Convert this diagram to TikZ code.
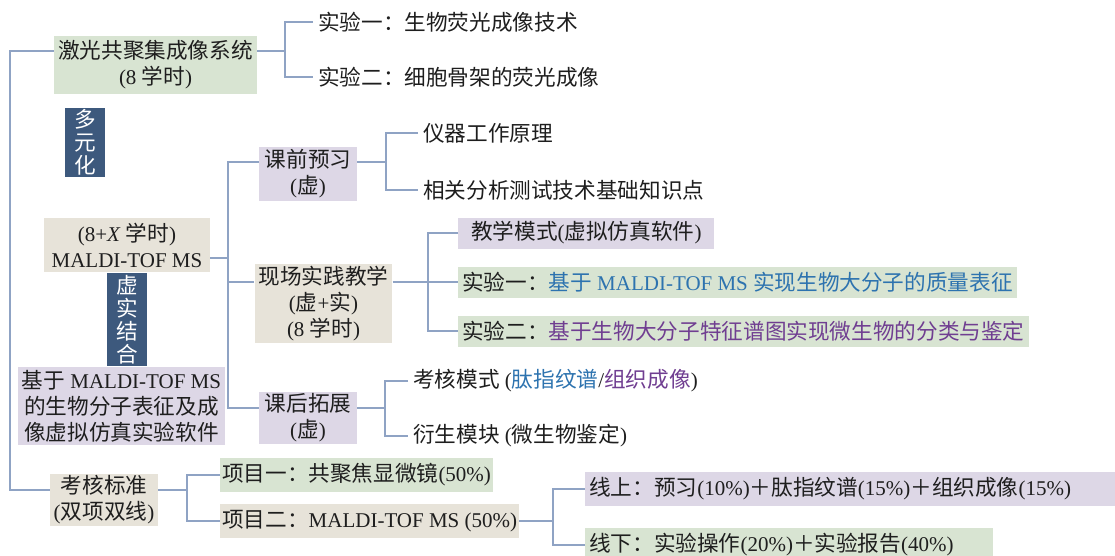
\documentclass[tikz,border=0pt]{standalone}
\usepackage{fontspec}
\setmainfont{Liberation Serif}
\newfontfamily\cjk[Scale=1.03]{Noto Sans CJK SC}
\usetikzlibrary{calc}
% switch to the CJK family for Han characters and full-width signs
\XeTeXinterchartokenstate=1
\newXeTeXintercharclass\hanclass
\newcount\hancode
\hancode="4E00
\loop
  \XeTeXcharclass\hancode=\hanclass
  \advance\hancode by 1
\ifnum\hancode<"A000 \repeat
\XeTeXcharclass"FF1A=\hanclass
\XeTeXcharclass"FF0B=\hanclass
\XeTeXinterchartoks 0 \hanclass = {\cjk}
\XeTeXinterchartoks 4095 \hanclass = {\cjk}
\XeTeXinterchartoks \hanclass 0 = {\rmfamily}
\XeTeXinterchartoks \hanclass 4095 = {\rmfamily}
\definecolor{linkblue}{RGB}{143,163,196}
\definecolor{boxgreen}{RGB}{216,228,210}
\definecolor{boxtan}{RGB}{231,227,217}
\definecolor{boxlilac}{RGB}{221,215,230}
\definecolor{tagblue}{RGB}{61,89,125}
\definecolor{txtblue}{RGB}{45,115,175}
\definecolor{txtpurple}{RGB}{112,62,145}
\definecolor{ink}{RGB}{30,30,30}
\tikzset{
  link/.style={draw=linkblue, line width=1.3pt},
  box/.style={font=\fontsize{21}{26}\selectfont, text=ink, inner xsep=4pt, inner ysep=2pt, align=center},
  greenbox/.style={box, fill=boxgreen},
  tanbox/.style={box, fill=boxtan},
  lilacbox/.style={box, fill=boxlilac},
  tagbox/.style={box, fill=tagblue, text=white, font=\fontsize{21}{23}\selectfont, minimum width=40pt},
  leaf/.style={box, anchor=west, inner xsep=5pt},
}
\begin{document}
\begin{tikzpicture}[x=1pt,y=-1pt]
\useasboundingbox (0,0) rectangle (1115,555);
% first branch
\node[greenbox, minimum width=195, minimum height=58] (las) at (155.5,65) {激光共聚集成像系统\\(8 学时)};
\node[leaf] (e1) at (313,22) {实验一：生物荧光成像技术};
\node[leaf] (e2) at (313,77) {实验二：细胞骨架的荧光成像};
\node[tagbox, minimum height=69] (t1) at (85,142.5) {多\\元\\化};
% second branch
\node[tanbox, minimum width=166, minimum height=54] (md) at (127,245) {(8+\textit{X} 学时)\\MALDI-TOF MS};
\node[tagbox, minimum height=89] (t2) at (127,319.5) {虚\\实\\结\\合};
\node[lilacbox, minimum width=205, minimum height=78] (sw) at (121.5,406) {基于 MALDI-TOF MS\\的生物分子表征及成\\像虚拟仿真实验软件};
\node[lilacbox, minimum width=98, minimum height=54] (kq) at (308,174) {课前预习\\(虚)};
\node[tanbox, minimum width=129, minimum height=75] (xc) at (323.5,303.5) {现场实践教学\\(虚+实)\\(8 学时)};
\node[lilacbox, minimum width=98, minimum height=50] (kb) at (308,418) {课后拓展\\(虚)};
\node[leaf] (q1) at (418,133) {仪器工作原理};
\node[leaf] (q2) at (418,190) {相关分析测试技术基础知识点};
\node[lilacbox, anchor=west, minimum height=31, inner xsep=13pt] (x1) at (458,233) {教学模式(虚拟仿真软件)};
\node[greenbox, anchor=west, minimum height=31] (x2) at (458,282) {实验一：\textcolor{txtblue}{基于 MALDI-TOF MS 实现生物大分子的质量表征}};
\node[greenbox, anchor=west, minimum height=31] (x3) at (458,331) {实验二：\textcolor{txtpurple}{基于生物大分子特征谱图实现微生物的分类与鉴定}};
\node[leaf] (h1) at (408,381) {考核模式 (\textcolor{txtblue}{肽指纹谱}/\textcolor{txtpurple}{组织成像})};
\node[leaf] (h2) at (408,436) {衍生模块 (微生物鉴定)};
% assessment
\node[tanbox, minimum width=108, minimum height=52] (kh) at (104,500) {考核标准\\(双项双线)};
\node[greenbox, anchor=west, minimum height=34, inner xsep=2pt] (p1) at (220,475) {项目一：共聚焦显微镜(50\%)};
\node[tanbox, anchor=west, minimum height=34, inner xsep=2pt] (p2) at (220,521) {项目二：MALDI-TOF MS (50\%)};
\node[lilacbox, anchor=west, minimum height=34, text width=525, align=left] (on) at (585,489) {线上：预习(10\%)＋肽指纹谱(15\%)＋组织成像(15\%)};
\node[greenbox, anchor=west, minimum height=34, text width=400, align=left] (off) at (585,545) {线下：实验操作(20\%)＋实验报告(40\%)};
% connectors
\coordinate (r0) at (10,51);
\coordinate (r1) at (10,490);
\draw[link] (las.west|-r0) -- (r0) -- (r1) -- (kh.west|-r1);
\coordinate (j1) at (285,51);
\draw[link] (las.east|-j1) -- (j1);
\draw[link] (e1.west) -| (j1) |- (e2.west);
\coordinate (s1) at (228,162);
\coordinate (s2) at (228,258);
\coordinate (s3) at (228,282);
\coordinate (s4) at (228,408);
\draw[link] (kq.west|-s1) -- (s1) -- (s4) -- (kb.west|-s4);
\draw[link] (md.east|-s2) -- (s2);
\draw[link] (s3) -- (xc.west|-s3);
\coordinate (j3) at (386,162);
\draw[link] (kq.east|-j3) -- (j3);
\draw[link] (q1.west) -| (j3) |- (q2.west);
\coordinate (j4) at (428,282);
\draw[link] (xc.east|-j4) -- (x2.west);
\draw[link] (x1.west) -| (j4) |- (x3.west);
\coordinate (j5) at (385,408);
\draw[link] (kb.east|-j5) -- (j5);
\draw[link] (h1.west) -| (j5) |- (h2.west);
\coordinate (j6) at (187,490);
\draw[link] (kh.east|-j6) -- (j6);
\draw[link] (p1.west) -| (j6) |- (p2.west);
\coordinate (j7) at (553,521);
\draw[link] (p2.east) -- (j7);
\draw[link] (on.west) -| (j7) |- (off.west);
\end{tikzpicture}
\end{document}
